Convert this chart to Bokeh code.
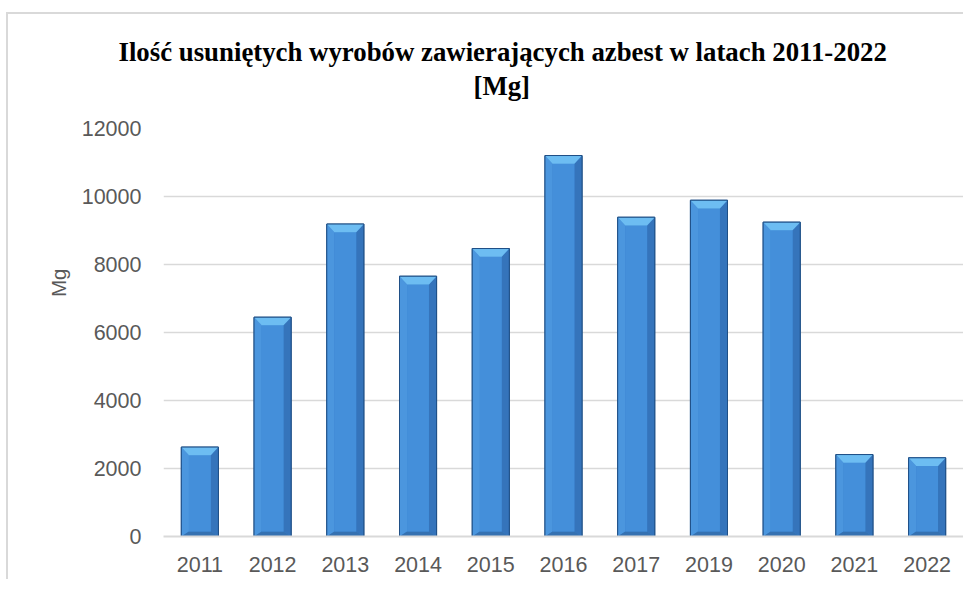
from bokeh.plotting import figure
from bokeh.layouts import column, row
from bokeh.models import (ColumnDataSource, Title, SingleIntervalTicker, Range1d,
                          LinearAxis, FixedTicker, Spacer)
from bokeh.embed import file_html
from bokeh.resources import INLINE

years = ["2011", "2012", "2013", "2014", "2015", "2016", "2017", "2019", "2020", "2021", "2022"]
values = [2630, 6450, 9190, 7655, 8470, 11205, 9390, 9890, 9245, 2410, 2315]
title_line1 = "Ilość usuniętych wyrobów zawierających azbest w latach 2011-2022"
title_line2 = "[Mg]"
y_label = "Mg"

p = figure(x_range=years, y_range=Range1d(0, 12000), width=957, height=567,
           output_backend="svg", toolbar_location=None, title_location=None,
           min_border_left=155, min_border_right=2, min_border_bottom=45, min_border_top=114)
p.styles = {"border-top": "2px solid #d9d9d9", "border-left": "2px solid #d9d9d9"}

p.outline_line_color = None
p.xgrid.grid_line_color = None
p.ygrid.grid_line_color = "#d9d9d9"
p.ygrid.grid_line_width = 1.5

p.yaxis.ticker = SingleIntervalTicker(interval=2000)
for ax in (p.xaxis, p.yaxis):
    ax.major_tick_line_color = None
    ax.minor_tick_line_color = None
    ax.major_tick_out = 0
    ax.major_label_text_font = "Liberation Sans"
    ax.major_label_text_color = "#595959"
    ax.major_label_text_font_size = "21.5px"
p.xaxis.major_label_standoff = 20
p.yaxis.major_label_standoff = 18
p.yaxis.axis_line_color = None
p.xaxis.axis_line_color = "#d9d9d9"
p.xaxis.axis_line_width = 2

# invisible (white) spacer between the title and the plot area
spacer_axis = LinearAxis(ticker=FixedTicker(ticks=[0]), major_label_text_color=None,
                         major_tick_out=27, major_tick_in=0, minor_tick_out=0, minor_tick_in=0,
                         major_tick_line_color="white", major_label_standoff=0,
                         axis_line_color=None)
p.add_layout(spacer_axis, "above")
p.add_layout(Title(text=title_line2, align="left", offset=310, vertical_align="bottom", standoff=2,
                   text_font="Liberation Serif", text_font_style="bold",
                   text_font_size="26.8px", text_color="black"), "above")
p.add_layout(Title(text=title_line1, align="left", offset=-45, vertical_align="bottom", standoff=2,
                   text_font="Liberation Serif", text_font_style="bold",
                   text_font_size="26.8px", text_color="black"), "above")
p.add_layout(Title(text=y_label, align="right", offset=140, vertical_align="bottom", standoff=17,
                   text_font="Liberation Sans", text_font_style="normal",
                   text_font_size="20.5px", text_color="#595959"), "left")

hw = 0.255
ins = 0.105
bh = 240

src = ColumnDataSource(dict(x=years, top=values))
p.vbar(x="x", top="top", bottom=0, width=2 * hw, source=src,
       fill_color="#3a82cf", line_color="#1f4f86", line_width=1)

# faces of the bevelled bar
top_xs, top_ys, r_xs, r_ys, l_xs, l_ys, b_xs, b_ys, c_xs, c_ys = ([] for _ in range(10))
for yr, v in zip(years, values):
    top_xs.append([(yr, -hw), (yr, hw), (yr, hw - ins), (yr, -hw + ins)])
    top_ys.append([v, v, v - bh, v - bh])
    r_xs.append([(yr, hw), (yr, hw), (yr, hw - ins), (yr, hw - ins)])
    r_ys.append([v, 0, bh * 0.6, v - bh])
    l_xs.append([(yr, -hw), (yr, -hw), (yr, -hw + ins), (yr, -hw + ins)])
    l_ys.append([v, 0, bh * 0.6, v - bh])
    b_xs.append([(yr, -hw), (yr, hw), (yr, hw - ins), (yr, -hw + ins)])
    b_ys.append([0, 0, bh * 0.6, bh * 0.6])
    c_xs.append([(yr, -hw + ins), (yr, hw - ins), (yr, hw - ins), (yr, -hw + ins)])
    c_ys.append([v - bh, v - bh, bh * 0.6, bh * 0.6])

p.patches(xs=r_xs, ys=r_ys, fill_color="#3574bb", line_color=None)
p.patches(xs=l_xs, ys=l_ys, fill_color="#4b96de", line_color=None)
p.patches(xs=b_xs, ys=b_ys, fill_color="#3571b1", line_color=None)
p.patches(xs=c_xs, ys=c_ys, fill_color="#448fda", line_color=None)
p.patches(xs=top_xs, ys=top_ys, fill_color="#6dbdf2", line_color=None)
p.vbar(x="x", top="top", bottom=0, width=2 * hw, source=src,
       fill_color=None, line_color="#1f4f86", line_width=1)

layout = column(Spacer(height=12), row(Spacer(width=6), p, spacing=0), spacing=0)
open("out.html", "w").write(file_html(layout, INLINE))
